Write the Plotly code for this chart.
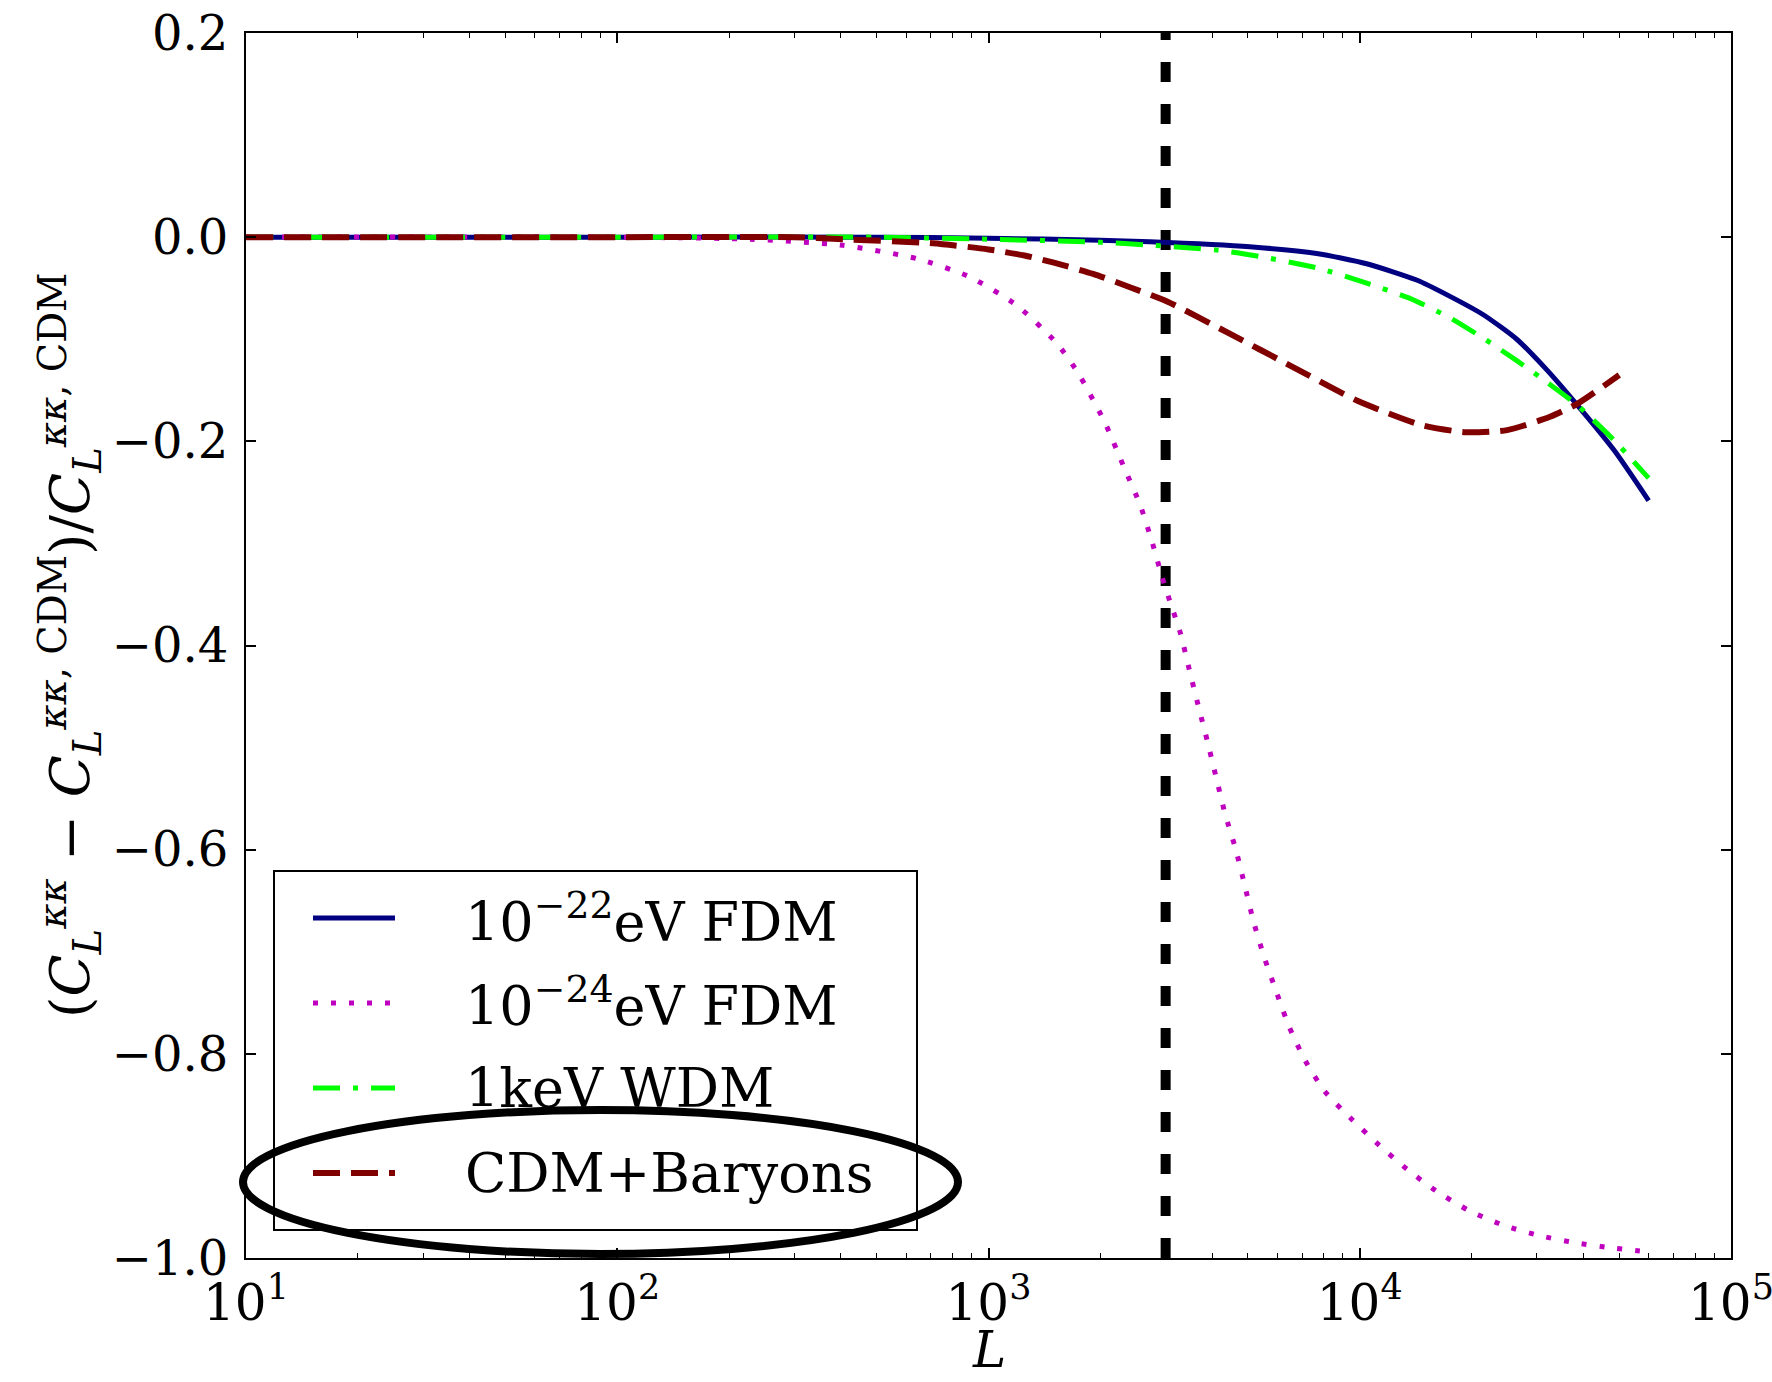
import plotly.graph_objects as go

# ---------------- data ----------------
L_fdm22 = [10, 100, 500, 1000, 2000, 2723, 5058, 7656, 10440, 14230, 17500, 21520, 26480, 31910, 38650, 48500, 60000]
v_fdm22 = [0.0, 0.0, 0.0, -0.001, -0.003, -0.0046, -0.0095, -0.016, -0.026, -0.042, -0.058, -0.076, -0.100, -0.130,
           -0.165, -0.209, -0.258]

L_fdm24 = [10, 100, 228, 405, 641, 891, 1194, 1528, 1743, 2061, 2333, 2560, 2756, 2930, 3076, 3289, 3476, 3673,
           3882, 4103, 4338, 4637, 4900, 5180, 5537, 5985, 6462, 7140, 8057, 9512, 11240, 13400, 16020, 19550,
           24380, 30420, 37960, 47350, 60000]
v_fdm24 = [0.0, 0.0, -0.002, -0.008, -0.021, -0.039, -0.067, -0.104, -0.133, -0.182, -0.228, -0.262, -0.298, -0.332,
           -0.356, -0.388, -0.424, -0.459, -0.493, -0.529, -0.565, -0.600, -0.635, -0.671, -0.706, -0.741, -0.774,
           -0.807, -0.837, -0.864, -0.889, -0.913, -0.934, -0.953, -0.968, -0.978, -0.985, -0.990, -0.994]

L_wdm = [10, 100, 500, 1000, 2000, 2723, 4120, 5385, 7656, 10440, 13650, 17500, 21520, 26480, 31910, 38650, 48430, 60000]
v_wdm = [0.0, 0.0, 0.0, -0.002, -0.005, -0.0078, -0.0127, -0.019, -0.030, -0.045, -0.060, -0.079, -0.099, -0.121,
         -0.142, -0.165, -0.199, -0.236]

L_bary = [10, 100, 300, 405, 708, 1000, 1250, 1500, 1914, 2404, 3027, 4436, 6590, 9820, 14650, 19130, 24950, 32530,
          38650, 50000]
v_bary = [0.0, 0.0, 0.0, -0.002, -0.006, -0.012, -0.018, -0.025, -0.036, -0.049, -0.063, -0.094, -0.127, -0.160,
          -0.184, -0.191, -0.189, -0.176, -0.163, -0.135]

L_cut = 3000
y_lo, y_hi = -1.0, 0.2

series_names = ["10<sup>\u221222</sup>eV FDM", "10<sup>\u221224</sup>eV FDM", "1keV WDM", "CDM+Baryons"]
x_tickvals = [10, 100, 1000, 10000, 100000]
x_ticktext = ["10<sup>1</sup>", "10<sup>2</sup>", "10<sup>3</sup>", "10<sup>4</sup>", "10<sup>5</sup>"]
y_tickvals = [-1.0, -0.8, -0.6, -0.4, -0.2, 0.0, 0.2]
y_ticktext = ["\u22121.0", "\u22120.8", "\u22120.6", "\u22120.4", "\u22120.2", "0.0", "0.2"]

# ---------------- styles ----------------
FONT = "DejaVu Serif"
styles = [
    dict(color="#000080", width=5, dash="solid"),
    dict(color="#BF00BF", width=5, dash="5px,13px"),
    dict(color="#00FF00", width=5, dash="27px,13px,5px,13px"),
    dict(color="#800000", width=6, dash="27px,11px"),
]

fig = go.Figure()

fig.add_trace(go.Scatter(x=[L_cut, L_cut], y=[y_lo, y_hi], mode="lines",
                         line=dict(color="black", width=10, dash="20px,22px"),
                         showlegend=False, hoverinfo="skip"))

for xs, ys, st, nm in zip([L_fdm22, L_fdm24, L_wdm, L_bary],
                          [v_fdm22, v_fdm24, v_wdm, v_bary], styles, series_names):
    fig.add_trace(go.Scatter(x=xs, y=ys, mode="lines", name=nm,
                             line=dict(st, shape="spline", smoothing=0.6), showlegend=False))

W, H = 1772, 1382
ml, mr, mt, mb = 246, 41, 33, 124
pw, ph = W - ml - mr, H - mt - mb


def px(xf):
    return (xf - ml) / pw


def py(yf):
    return (H - mb - yf) / ph


shapes = []
annotations = []

# legend box (manual, to match line-sample length)
shapes.append(dict(type="rect", xref="paper", yref="paper", x0=px(274), x1=px(917), y0=py(1230), y1=py(871),
                   line=dict(color="black", width=2), fillcolor="white", layer="above"))
row_y = [918, 1003, 1088, 1173]
for st, nm, ry in zip(styles, series_names, row_y):
    shapes.append(dict(type="line", xref="paper", yref="paper", x0=px(313), x1=px(395), y0=py(ry), y1=py(ry),
                       line=dict(color=st["color"], width=st["width"], dash=st["dash"]), layer="above"))
    annotations.append(dict(xref="paper", yref="paper", x=px(463), y=py(ry), xanchor="left", yanchor="middle",
                            text=nm, showarrow=False, font=dict(family=FONT, size=54, color="black")))

# hand-drawn ellipse around the last legend entry
shapes.append(dict(type="circle", xref="paper", yref="paper", x0=px(243), x1=px(958), y0=py(1254), y1=py(1110),
                   line=dict(color="black", width=8), layer="above"))

# axis titles
annotations.append(dict(xref="paper", yref="paper", x=0.5, y=py(1350), xanchor="center", yanchor="middle",
                        text="<i>L</i>", showarrow=False, font=dict(family=FONT, size=50, color="black")))
ylab = ("(<i>C</i><sub><i>L</i></sub><sup><i>\u03ba\u03ba</i></sup> \u2212 "
        "<i>C</i><sub><i>L</i></sub><sup><i>\u03ba\u03ba</i>, CDM</sup>)/"
        "<i>C</i><sub><i>L</i></sub><sup><i>\u03ba\u03ba</i>, CDM</sup>")
annotations.append(dict(xref="paper", yref="paper", x=px(70), y=py(645), xanchor="center", yanchor="middle",
                        text=ylab, textangle=-90, showarrow=False, font=dict(family=FONT, size=55, color="black")))

fig.update_layout(
    width=W, height=H,
    margin=dict(l=ml, r=mr, t=mt, b=mb, autoexpand=False),
    paper_bgcolor="white", plot_bgcolor="white",
    showlegend=False,
    shapes=shapes, annotations=annotations,
    font=dict(family=FONT, color="black"),
)

fig.update_xaxes(type="log", range=[1, 5], showgrid=False, zeroline=False, automargin=False,
                 showline=True, linecolor="black", linewidth=2, mirror="allticks",
                 ticks="inside", ticklen=10, tickwidth=1.5, tickcolor="black",
                 tickmode="array", tickvals=x_tickvals, ticktext=x_ticktext,
                 ticklabeloverflow="allow",
                 tickfont=dict(family=FONT, size=50, color="black"),
                 minor=dict(ticks="inside", ticklen=5, tickwidth=1.2, tickcolor="black", dtick="D1", showgrid=False))
fig.update_yaxes(range=[y_lo, y_hi], showgrid=False, zeroline=False, automargin=False,
                 showline=True, linecolor="black", linewidth=2, mirror="allticks",
                 ticks="inside", ticklen=10, tickwidth=1.5, tickcolor="black",
                 tickmode="array", tickvals=y_tickvals, ticktext=y_ticktext,
                 ticklabeloverflow="allow",
                 tickfont=dict(family=FONT, size=48, color="black"), ticklabelstandoff=6)

fig.write_html("out.html")
